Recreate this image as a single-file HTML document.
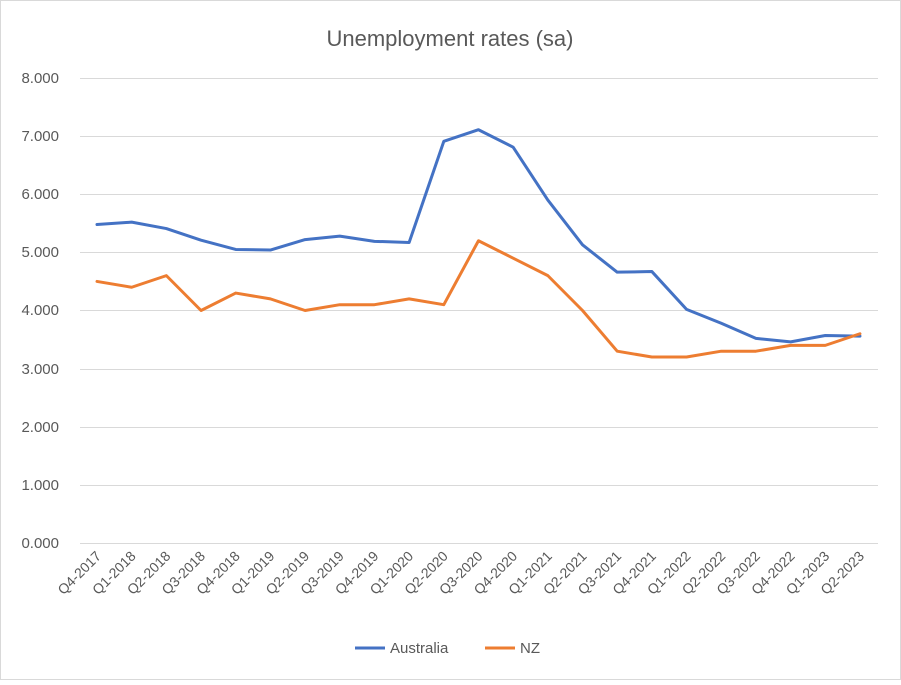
<!DOCTYPE html>
<html><head><style>
html,body{margin:0;padding:0;background:#fff;}
svg text{font-family:"Liberation Sans",Arial,sans-serif;fill:#595959;}
</style></head><body>
<svg id="c" width="901" height="680" xmlns="http://www.w3.org/2000/svg">
<rect x="0.5" y="0.5" width="900" height="679" fill="#fff" stroke="#d9d9d9"/>
<text x="450" y="46" font-size="22" text-anchor="middle">Unemployment rates (sa)</text>
<g stroke="#d9d9d9" stroke-width="1">
<line x1="80" x2="878" y1="78.5" y2="78.5"/>
<line x1="80" x2="878" y1="136.5" y2="136.5"/>
<line x1="80" x2="878" y1="194.5" y2="194.5"/>
<line x1="80" x2="878" y1="252.5" y2="252.5"/>
<line x1="80" x2="878" y1="310.5" y2="310.5"/>
<line x1="80" x2="878" y1="369.5" y2="369.5"/>
<line x1="80" x2="878" y1="427.5" y2="427.5"/>
<line x1="80" x2="878" y1="485.5" y2="485.5"/>
<line x1="80" x2="878" y1="543.5" y2="543.5"/>
</g>
<g font-size="15" text-anchor="end">
<text x="59" y="83">8.000</text>
<text x="59" y="141">7.000</text>
<text x="59" y="199">6.000</text>
<text x="59" y="257">5.000</text>
<text x="59" y="315">4.000</text>
<text x="59" y="374">3.000</text>
<text x="59" y="432">2.000</text>
<text x="59" y="490">1.000</text>
<text x="59" y="548">0.000</text>
</g>
<g id="xl" font-size="14" text-anchor="end"></g>
<polyline id="au" fill="none" stroke="#4472c4" stroke-width="3" stroke-linejoin="round" stroke-linecap="round"/>
<polyline id="nz" fill="none" stroke="#ed7d31" stroke-width="3" stroke-linejoin="round" stroke-linecap="round"/>
<line x1="355" x2="385" y1="648" y2="648" stroke="#4472c4" stroke-width="3"/>
<text x="390" y="653" font-size="15">Australia</text>
<line x1="485" x2="515" y1="648" y2="648" stroke="#ed7d31" stroke-width="3"/>
<text x="520" y="653" font-size="15">NZ</text>
</svg>
<script>
var labels=["Q4-2017","Q1-2018","Q2-2018","Q3-2018","Q4-2018","Q1-2019","Q2-2019","Q3-2019","Q4-2019","Q1-2020","Q2-2020","Q3-2020","Q4-2020","Q1-2021","Q2-2021","Q3-2021","Q4-2021","Q1-2022","Q2-2022","Q3-2022","Q4-2022","Q1-2023","Q2-2023"];
var au=[5.48,5.52,5.41,5.21,5.05,5.04,5.22,5.28,5.19,5.17,6.91,7.11,6.81,5.90,5.13,4.66,4.67,4.02,3.78,3.52,3.46,3.57,3.56];
var nz=[4.5,4.4,4.6,4.0,4.3,4.2,4.0,4.1,4.1,4.2,4.1,5.2,4.9,4.6,4.0,3.3,3.2,3.2,3.3,3.3,3.4,3.4,3.6];
function X(i){return 97+i*34.68;}
function Y(v){return 543-v*58.125;}
document.getElementById('au').setAttribute('points',au.map(function(v,i){return X(i)+','+Y(v)}).join(' '));
document.getElementById('nz').setAttribute('points',nz.map(function(v,i){return X(i)+','+Y(v)}).join(' '));
var g=document.getElementById('xl');
labels.forEach(function(l,i){var t=document.createElementNS('http://www.w3.org/2000/svg','text');var x=X(i)+5,y=557;t.setAttribute('x',x);t.setAttribute('y',y);t.setAttribute('transform','rotate(-45 '+x+' '+y+')');t.textContent=l;g.appendChild(t);});
</script>
</body></html>
